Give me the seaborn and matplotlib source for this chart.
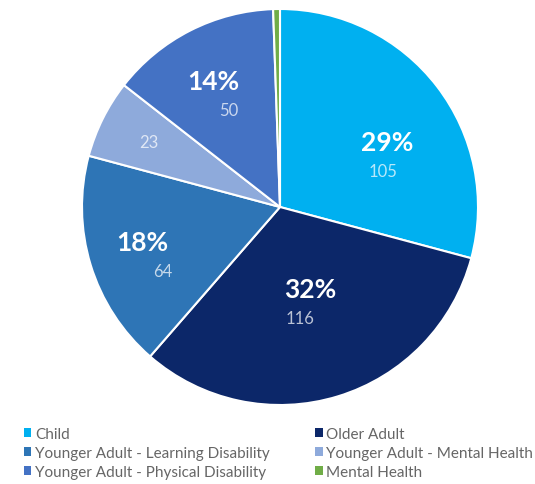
import numpy as np
import matplotlib
matplotlib.use("Agg")
import matplotlib.pyplot as plt
import seaborn as sns
from matplotlib.patches import Patch

categories = ["Child", "Older Adult", "Younger Adult - Learning Disability",
              "Younger Adult - Mental Health", "Younger Adult - Physical Disability",
              "Mental Health"]
values = [105, 116, 64, 23, 50, 2]
pct_labels = ["29%", "32%", "18%", "", "14%", ""]
value_labels = ["105", "116", "64", "23", "50", ""]

colors = ["#00b0f0", "#0c2769", "#2e75b6", "#8eaadb", "#4472c4", "#70ad47"]
# label placement (radius fraction, angle offset in degrees, pct x-shift, value x-shift)
label_r = [0.59, 0.50, 0.69, 0.74, 0.64, 0.7]
label_dang = [-11.5, -2.4, 4.0, 0.0, 0.8, 0.0]
pct_dx = [0.01, 0.025, -0.05, 0.0, -0.04, 0.0]
val_dx = [-0.01, -0.025, 0.05, 0.0, 0.04, 0.0]

sns.set_theme(style="white")
plt.rcParams['font.family'] = ['Lato', 'DejaVu Sans']
palette = sns.color_palette(colors)

fig = plt.figure(figsize=(5.35, 4.85), dpi=100)
ax = fig.add_axes([82/535, 79/485, 396/535, 396/485])
wedges, _ = ax.pie(values, colors=palette, startangle=90, counterclock=False,
                   radius=1.0, wedgeprops=dict(edgecolor="white", linewidth=1.5))
ax.set_xlim(-1, 1)
ax.set_ylim(-1, 1)
ax.set_aspect("equal")

for w, p, v, r, da, pdx, vdx in zip(wedges, pct_labels, value_labels, label_r,
                                     label_dang, pct_dx, val_dx):
    ang = np.deg2rad((w.theta1 + w.theta2) / 2 + da)
    x, y = r * np.cos(ang), r * np.sin(ang)
    if p:
        ax.text(x + pdx, y + 0.07, p, ha="center", va="center", color="white",
                fontsize=19, fontweight="bold")
        if v:
            ax.text(x + vdx, y - 0.078, v, ha="center", va="center", color="white",
                    alpha=0.72, fontsize=12)
    elif v:
        ax.text(x, y, v, ha="center", va="center", color="white",
                alpha=0.72, fontsize=12)

order = [0, 2, 4, 1, 3, 5]
handles = [Patch(facecolor=colors[i], edgecolor="none") for i in order]
labels = [categories[i] for i in order]
fig.legend(handles, labels, ncol=2, loc="upper left",
           bbox_to_anchor=(10/535, 1 - 414/485), frameon=False,
           fontsize=11, handlelength=0.5, handleheight=0.5,
           handletextpad=0.25, columnspacing=2.95, labelspacing=0.33,
           labelcolor="#666666")

fig.savefig("out.png", dpi=100, facecolor="white")
